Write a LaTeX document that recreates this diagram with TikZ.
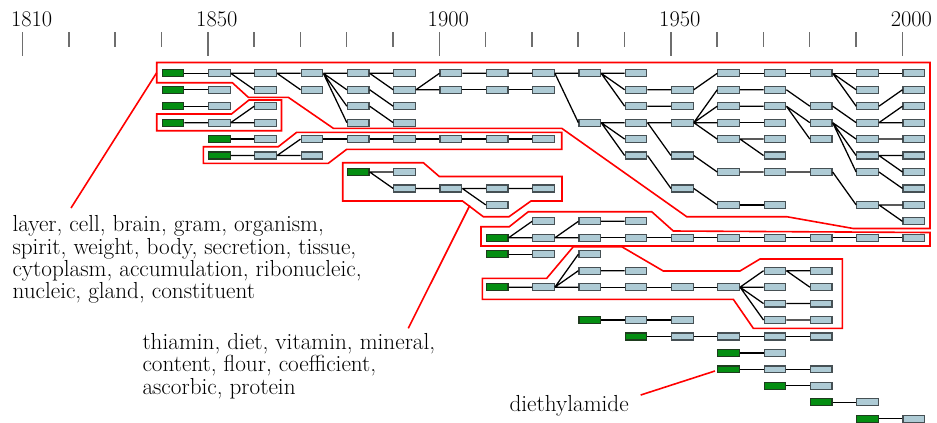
\documentclass[tikz,border=0pt]{standalone}
\usepackage{fontspec}
\tikzset{every picture/.style={line width=0.75pt}}
\tikzset{
  term/.style={rectangle, draw={rgb,255:red,70;green,80;blue,84}, fill={rgb,255:red,174;green,203;blue,213}, line width=0.9pt, minimum width=16.2pt, minimum height=5.2pt, inner sep=0pt},
  seed/.style={term, fill={rgb,255:red,4;green,142;blue,18}, draw={rgb,255:red,30;green,60;blue,30}},
  link/.style={draw, line width=0.95pt},
  hull/.style={draw={rgb,255:red,255;green,0;blue,0}, line width=1.2pt},
  tick/.style={draw={rgb,255:red,110;green,110;blue,110}, line width=1.1pt},
  words/.style={anchor=base west, inner sep=0pt, align=left, font=\fontsize{17.4}{16.8}\selectfont},
  year/.style={anchor=base, inner sep=0pt, font=\fontsize{16.8}{16.8}\selectfont},
}

\begin{document}
\begin{tikzpicture}[x=0.75pt,y=0.75pt,yscale=-1,xscale=1]
\useasboundingbox (0,0) rectangle (937,422);

% Time axis
\foreach \yr in {1810,1850,1900,1950,2000} {
  \draw[tick] ({207.8+4.63*(\yr-1850)},32) -- ++(0,23.5);
  \node[year] (y\yr) at ({216.8+4.63*(\yr-1850)},26.5) {\yr};
}
\foreach \yr in {1820,1830,1840,1860,1870,1880,1890,1910,1920,1930,1940,1960,1970,1980,1990}
  \draw[tick] ({207.8+4.63*(\yr-1850)},32) -- ++(0,15);

% Terms: one column per decade from 1840, one row per line
\begin{scope}[shift={(173.05,73.3)},x=34.725pt,y=12.3375pt]
% row 1
\node[seed] (c0r1) at (0,0) {};
\node[term] (c1r1) at (1,0) {};   \node[term] (c2r1) at (2,0) {};   \node[term] (c3r1) at (3,0) {};   \node[term] (c4r1) at (4,0) {};
\node[term] (c5r1) at (5,0) {};   \node[term] (c6r1) at (6,0) {};   \node[term] (c7r1) at (7,0) {};   \node[term] (c8r1) at (8,0) {};
\node[term] (c9r1) at (9,0) {};   \node[term] (c10r1) at (10,0) {}; \node[term] (c12r1) at (12,0) {}; \node[term] (c13r1) at (13,0) {};
\node[term] (c14r1) at (14,0) {}; \node[term] (c15r1) at (15,0) {}; \node[term] (c16r1) at (16,0) {};
% row 2
\node[seed] (c0r2) at (0,1) {};
\node[term] (c1r2) at (1,1) {};   \node[term] (c2r2) at (2,1) {};   \node[term] (c3r2) at (3,1) {};   \node[term] (c4r2) at (4,1) {};
\node[term] (c5r2) at (5,1) {};   \node[term] (c6r2) at (6,1) {};   \node[term] (c7r2) at (7,1) {};   \node[term] (c8r2) at (8,1) {};
\node[term] (c10r2) at (10,1) {}; \node[term] (c11r2) at (11,1) {}; \node[term] (c12r2) at (12,1) {}; \node[term] (c13r2) at (13,1) {};
\node[term] (c15r2) at (15,1) {}; \node[term] (c16r2) at (16,1) {};
% row 3
\node[seed] (c0r3) at (0,2) {};
\node[term] (c1r3) at (1,2) {};   \node[term] (c2r3) at (2,2) {};   \node[term] (c4r3) at (4,2) {};   \node[term] (c5r3) at (5,2) {};
\node[term] (c10r3) at (10,2) {}; \node[term] (c11r3) at (11,2) {}; \node[term] (c12r3) at (12,2) {}; \node[term] (c13r3) at (13,2) {};
\node[term] (c14r3) at (14,2) {}; \node[term] (c15r3) at (15,2) {}; \node[term] (c16r3) at (16,2) {};
% row 4
\node[seed] (c0r4) at (0,3) {};
\node[term] (c1r4) at (1,3) {};   \node[term] (c2r4) at (2,3) {};   \node[term] (c4r4) at (4,3) {};   \node[term] (c5r4) at (5,3) {};
\node[term] (c9r4) at (9,3) {};   \node[term] (c10r4) at (10,3) {}; \node[term] (c11r4) at (11,3) {}; \node[term] (c12r4) at (12,3) {};
\node[term] (c13r4) at (13,3) {}; \node[term] (c14r4) at (14,3) {}; \node[term] (c15r4) at (15,3) {}; \node[term] (c16r4) at (16,3) {};
% row 5
\node[seed] (c1r5) at (1,4) {};
\node[term] (c2r5) at (2,4) {};   \node[term] (c3r5) at (3,4) {};   \node[term] (c4r5) at (4,4) {};   \node[term] (c5r5) at (5,4) {};
\node[term] (c6r5) at (6,4) {};   \node[term] (c7r5) at (7,4) {};   \node[term] (c8r5) at (8,4) {};   \node[term] (c10r5) at (10,4) {};
\node[term] (c12r5) at (12,4) {}; \node[term] (c13r5) at (13,4) {}; \node[term] (c14r5) at (14,4) {}; \node[term] (c15r5) at (15,4) {};
\node[term] (c16r5) at (16,4) {};
% row 6
\node[seed] (c1r6) at (1,5) {};
\node[term] (c2r6) at (2,5) {};   \node[term] (c3r6) at (3,5) {};   \node[term] (c10r6) at (10,5) {}; \node[term] (c11r6) at (11,5) {};
\node[term] (c13r6) at (13,5) {}; \node[term] (c15r6) at (15,5) {}; \node[term] (c16r6) at (16,5) {};
% row 7
\node[seed] (c4r7) at (4,6) {};
\node[term] (c5r7) at (5,6) {};   \node[term] (c12r7) at (12,6) {}; \node[term] (c13r7) at (13,6) {}; \node[term] (c14r7) at (14,6) {};
\node[term] (c15r7) at (15,6) {}; \node[term] (c16r7) at (16,6) {};
% row 8
\node[term] (c5r8) at (5,7) {};   \node[term] (c6r8) at (6,7) {};   \node[term] (c7r8) at (7,7) {};   \node[term] (c8r8) at (8,7) {};
\node[term] (c11r8) at (11,7) {}; \node[term] (c16r8) at (16,7) {};
% row 9
\node[term] (c7r9) at (7,8) {};   \node[term] (c12r9) at (12,8) {}; \node[term] (c13r9) at (13,8) {}; \node[term] (c15r9) at (15,8) {};
\node[term] (c16r9) at (16,8) {};
% row 10
\node[term] (c8r10) at (8,9) {};  \node[term] (c9r10) at (9,9) {};  \node[term] (c10r10) at (10,9) {}; \node[term] (c16r10) at (16,9) {};
% row 11
\node[seed] (c7r11) at (7,10) {};
\node[term] (c8r11) at (8,10) {};   \node[term] (c9r11) at (9,10) {};   \node[term] (c10r11) at (10,10) {}; \node[term] (c11r11) at (11,10) {};
\node[term] (c12r11) at (12,10) {}; \node[term] (c13r11) at (13,10) {}; \node[term] (c14r11) at (14,10) {}; \node[term] (c15r11) at (15,10) {};
\node[term] (c16r11) at (16,10) {};
% row 12
\node[seed] (c7r12) at (7,11) {};
\node[term] (c8r12) at (8,11) {};   \node[term] (c9r12) at (9,11) {};
% row 13
\node[term] (c9r13) at (9,12) {};   \node[term] (c10r13) at (10,12) {}; \node[term] (c13r13) at (13,12) {}; \node[term] (c14r13) at (14,12) {};
% row 14
\node[seed] (c7r14) at (7,13) {};
\node[term] (c8r14) at (8,13) {};   \node[term] (c9r14) at (9,13) {};   \node[term] (c10r14) at (10,13) {}; \node[term] (c11r14) at (11,13) {};
\node[term] (c12r14) at (12,13) {}; \node[term] (c13r14) at (13,13) {}; \node[term] (c14r14) at (14,13) {};
% row 15
\node[term] (c13r15) at (13,14) {}; \node[term] (c14r15) at (14,14) {};
% row 16
\node[seed] (c9r16) at (9,15) {};
\node[term] (c10r16) at (10,15) {}; \node[term] (c11r16) at (11,15) {}; \node[term] (c13r16) at (13,15) {}; \node[term] (c14r16) at (14,15) {};
% row 17
\node[seed] (c10r17) at (10,16) {};
\node[term] (c11r17) at (11,16) {}; \node[term] (c12r17) at (12,16) {}; \node[term] (c13r17) at (13,16) {}; \node[term] (c14r17) at (14,16) {};
% rows 18 to 22
\node[seed] (c12r18) at (12,17) {}; \node[term] (c13r18) at (13,17) {};
\node[seed] (c12r19) at (12,18) {}; \node[term] (c13r19) at (13,18) {}; \node[term] (c14r19) at (14,18) {};
\node[seed] (c13r20) at (13,19) {}; \node[term] (c14r20) at (14,19) {};
\node[seed] (c14r21) at (14,20) {}; \node[term] (c15r21) at (15,20) {};
\node[seed] (c15r22) at (15,21) {}; \node[term] (c16r22) at (16,21) {};

% Links: tree of the seed in row 1
\draw[link] (c0r1.east) -- (c1r1.west);
\draw[link] (c1r1.east) -- (c2r1.west) (c1r1.east) -- (c2r2.west);
\draw[link] (c2r1.east) -- (c3r1.west) (c2r1.east) -- (c3r2.west);
\draw[link] (c3r1.east) -- (c4r1.west) (c3r1.east) -- (c4r2.west) (c3r1.east) -- (c4r3.west) (c3r1.east) -- (c4r4.west);
\draw[link] (c4r1.east) -- (c5r1.west) (c4r1.east) -- (c5r2.west) (c4r2.east) -- (c5r3.west) (c4r3.east) -- (c5r4.west);
\draw[link] (c5r2.east) -- (c6r1.west) (c5r2.east) -- (c6r2.west);
\draw[link] (c6r1.east) -- (c7r1.west) (c7r1.east) -- (c8r1.west) (c8r1.east) -- (c9r1.west) (c8r1.east) -- (c9r4.west);
\draw[link] (c6r2.east) -- (c7r2.west) (c7r2.east) -- (c8r2.west);
\draw[link] (c9r1.east) -- (c10r1.west) (c9r1.east) -- (c10r2.west) (c9r1.east) -- (c10r3.west);
\draw[link] (c10r2.east) -- (c11r2.west) (c11r2.east) -- (c12r1.west) (c10r3.east) -- (c11r3.west);
\draw[link] (c9r4.east) -- (c10r4.west) (c9r4.east) -- (c10r5.west) (c9r4.east) -- (c10r6.west);
\draw[link] (c10r4.east) -- (c11r4.west) (c10r4.east) -- (c11r6.west) (c10r6.east) -- (c11r8.west);
\draw[link] (c11r4.east) -- (c12r2.west) (c11r4.east) -- (c12r3.west) (c11r4.east) -- (c12r4.west) (c11r4.east) -- (c12r5.west);
\draw[link] (c11r6.east) -- (c12r7.west) (c11r8.east) -- (c12r9.west);
\draw[link] (c12r1.east) -- (c13r1.west) (c13r1.east) -- (c14r1.west) (c14r1.east) -- (c15r1.west) (c15r1.east) -- (c16r1.west);
\draw[link] (c14r1.east) -- (c15r2.west) (c14r1.east) -- (c15r3.west);
\draw[link] (c12r2.east) -- (c13r2.west) (c13r2.east) -- (c14r3.west) (c14r3.east) -- (c15r4.west);
\draw[link] (c12r3.east) -- (c13r3.west) (c13r3.east) -- (c14r4.west) (c13r3.east) -- (c14r5.west);
\draw[link] (c12r4.east) -- (c13r4.west);
\draw[link] (c12r5.east) -- (c13r5.west) (c12r5.east) -- (c13r6.west);
\draw[link] (c12r7.east) -- (c13r7.west) (c13r7.east) -- (c14r7.west) (c14r7.east) -- (c15r9.west);
\draw[link] (c12r9.east) -- (c13r9.west);
\draw[link] (c14r4.east) -- (c15r5.west) (c14r4.east) -- (c15r6.west) (c14r4.east) -- (c15r7.west);
\draw[link] (c15r3.east) -- (c16r2.west) (c15r4.east) -- (c16r3.west) (c15r4.east) -- (c16r4.west);
\draw[link] (c15r5.east) -- (c16r5.west) (c15r6.east) -- (c16r6.west) (c15r6.east) -- (c16r7.west) (c15r7.east) -- (c16r8.west);
\draw[link] (c15r9.east) -- (c16r9.west) (c15r9.east) -- (c16r10.west);
% Links: the other trees
\draw[link] (c0r2.east) -- (c1r2.west);
\draw[link] (c0r3.east) -- (c1r3.west);
\draw[link] (c0r4.east) -- (c1r4.west) (c1r4.east) -- (c2r3.west) (c1r4.east) -- (c2r4.west);
\draw[link] (c1r5.east) -- (c2r5.west);
\draw[link] (c1r6.east) -- (c2r6.west) (c2r6.east) -- (c3r5.west) (c2r6.east) -- (c3r6.west);
\draw[link] (c3r5.east) -- (c4r5.west) (c4r5.east) -- (c5r5.west) (c5r5.east) -- (c6r5.west) (c6r5.east) -- (c7r5.west) (c7r5.east) -- (c8r5.west);
\draw[link] (c4r7.east) -- (c5r7.west) (c4r7.east) -- (c5r8.west) (c5r8.east) -- (c6r8.west);
\draw[link] (c6r8.east) -- (c7r8.west) (c6r8.east) -- (c7r9.west) (c7r8.east) -- (c8r8.west);
\draw[link] (c7r11.east) -- (c8r10.west) (c7r11.east) -- (c8r11.west) (c8r11.east) -- (c9r10.west) (c8r11.east) -- (c9r11.west) (c9r10.east) -- (c10r10.west);
\draw[link] (c9r11.east) -- (c10r11.west) (c10r11.east) -- (c11r11.west) (c11r11.east) -- (c12r11.west) (c12r11.east) -- (c13r11.west);
\draw[link] (c13r11.east) -- (c14r11.west) (c14r11.east) -- (c15r11.west) (c15r11.east) -- (c16r11.west);
\draw[link] (c7r12.east) -- (c8r12.west);
\draw[link] (c7r14.east) -- (c8r14.west) (c8r14.east) -- (c9r12.west) (c8r14.east) -- (c9r13.west) (c8r14.east) -- (c9r14.west) (c9r13.east) -- (c10r13.west);
\draw[link] (c9r14.east) -- (c10r14.west) (c10r14.east) -- (c11r14.west) (c11r14.east) -- (c12r14.west);
\draw[link] (c12r14.east) -- (c13r13.west) (c12r14.east) -- (c13r14.west) (c12r14.east) -- (c13r15.west) (c12r14.east) -- (c13r16.west);
\draw[link] (c13r13.east) -- (c14r13.west) (c13r13.east) -- (c14r14.west) (c13r15.east) -- (c14r15.west) (c13r16.east) -- (c14r16.west);
\draw[link] (c9r16.east) -- (c10r16.west) (c10r16.east) -- (c11r16.west);
\draw[link] (c10r17.east) -- (c11r17.west) (c11r17.east) -- (c12r17.west) (c12r17.east) -- (c13r17.west) (c13r17.east) -- (c14r17.west);
\draw[link] (c12r18.east) -- (c13r18.west);
\draw[link] (c12r19.east) -- (c13r19.west) (c13r19.east) -- (c14r19.west);
\draw[link] (c13r20.east) -- (c14r20.west);
\draw[link] (c14r21.east) -- (c15r21.west);
\draw[link] (c15r22.east) -- (c16r22.west);
\end{scope}

% Red outlines round the clusters
\draw[hull] (156.7,62.5) -- (930,62.5) -- (930,228.5) -- (853.3,228.5) -- (786.7,216.7) -- (686.7,216.7) -- (561.7,128.3) -- (333.3,128.3) -- (288.3,97.3) -- (248.3,97.3) -- (232.3,82.7) -- (156.7,82.7) -- cycle;
\draw[hull] (156.7,114) -- (231.5,114) -- (249,100) -- (281.5,100) -- (281.5,130.7) -- (156.7,130.7) -- cycle;
\draw[hull] (203.3,146.7) -- (278.3,146.7) -- (296.7,132.3) -- (561.7,132.3) -- (561.7,149.3) -- (346.7,149.3) -- (328.3,163.3) -- (203.3,163.3) -- cycle;
\draw[hull] (342.7,162.7) -- (423.3,162.7) -- (439.3,176.5) -- (562,176.5) -- (562,201) -- (531,201) -- (509,216.7) -- (483.3,216.7) -- (462.5,201) -- (342.7,201) -- cycle;
\draw[hull] (481,226.7) -- (509.3,226.7) -- (528.3,211.7) -- (651.7,211.7) -- (673.3,231) -- (930,232.5) -- (930,246) -- (481,246) -- cycle;
\draw[hull] (482.3,278.3) -- (546.7,278.3) -- (573.3,246.7) -- (621.7,246.7) -- (663.3,271) -- (740,271) -- (760,259) -- (842.3,259) -- (842.3,328.3) -- (753.3,328.3) -- (733.3,299.3) -- (482.3,299.3) -- cycle;

% Labels (placed at the baseline of their last line)
\node[words] (layers) at (12,298.8) {layer, cell, brain, gram, organism,\\spirit, weight, body, secretion, tissue,\\cytoplasm, accumulation, ribonucleic,\\nucleic, gland, constituent};
\node[words] (vitamins) at (142,394.1) {thiamin, diet, vitamin, mineral,\\content, flour, coefficient,\\ascorbic, protein};
\node[words] (diethyl) at (509,411) {diethylamide};

% Pointers
\coordinate (layerpin) at (156.7,72.7);
\coordinate (layertip) at (71,208);
\coordinate (vitpin) at (469.8,205.4);
\coordinate (vittip) at (408.3,328.3);
\coordinate (diepin) at (640.7,395);
\draw[hull] (layerpin) -- (layertip);
\draw[hull] (vitpin) -- (vittip);
\draw[hull] (diepin) -- ([shift={(-2.3,1.6)}]c12r19.west);

\end{tikzpicture}
\end{document}
